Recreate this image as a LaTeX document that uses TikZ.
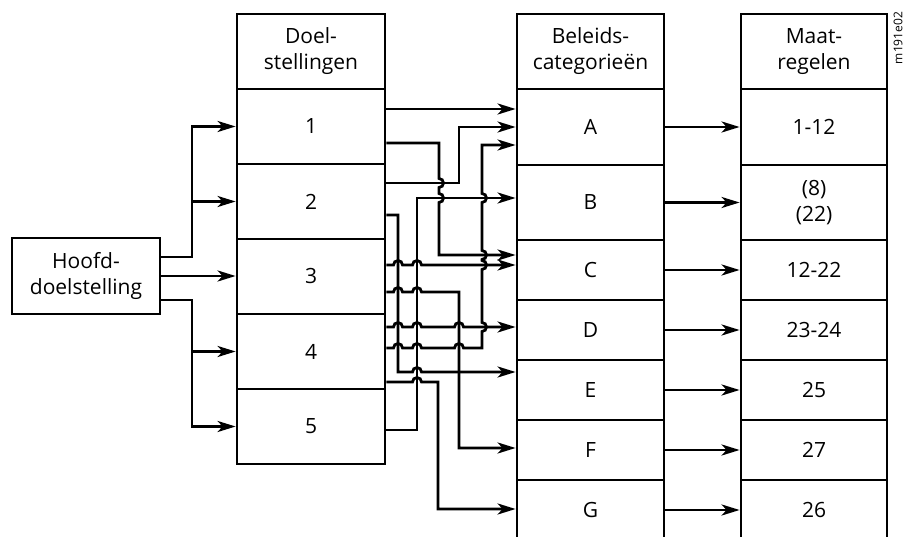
\documentclass[tikz,border=0pt]{standalone}
\usepackage{fontspec}
\setmainfont{Open Sans}
\usetikzlibrary{arrows.meta}

\begin{document}
\begin{tikzpicture}[x=1pt,y=-1pt]

	% INPUTS

	\newcommand{\xhoofd}{86}		% centre of the box Hoofddoelstelling
	\newcommand{\xdoel}{311}		% centre of column Doelstellingen
	\newcommand{\xbeleid}{590.5}	% centre of column Beleidscategorieen
	\newcommand{\xmaat}{814}		% centre of column Maatregelen
	\newcommand{\xsplits}{192}		% vertical bus after the main box

	% jump over a vertical line (going right), over a horizontal line (going down / up)
	\newcommand{\hsprong}[2]{-- ({#1-4.5},#2) arc[start angle=180,end angle=0,radius=4.5pt]}
	\newcommand{\vsprong}[2]{-- (#1,{#2-4.5}) arc[start angle=90,end angle=-90,radius=4.5pt]}
	\newcommand{\vsprongop}[2]{-- (#1,{#2+4.5}) arc[start angle=-90,end angle=90,radius=4.5pt]}

	% page size
	\clip (0,0) rectangle (905,537);

	% styles
	\tikzstyle{vak}=[draw,line width=2.8pt,inner sep=0pt,align=center,font=\fontsize{21}{26}\selectfont]
	\tikzstyle{pijl}=[line width=2.8pt,-{Stealth[length=18pt,width=11pt,inset=5pt]}]

	% main box
	\node[vak,minimum width=148pt,minimum height=76pt] (hoofd) at (\xhoofd,276) {Hoofd-\\doelstelling};

	% column Doelstellingen
	\node[vak,minimum width=148pt,minimum height=75pt] (kopdoel) at (\xdoel,51.5) {Doel-\\stellingen};
	\foreach \i in {1,...,5}
		\node[vak,minimum width=148pt,minimum height=75pt] (doel\i) at (\xdoel,{51.5+75*\i}) {\i};

	% columns Beleidscategorieen and Maatregelen
	\node[vak,minimum width=147pt,minimum height=75pt] (kopbeleid) at (\xbeleid,51.5) {Beleids-\\categorieën};
	\node[vak,minimum width=146pt,minimum height=75pt] (kopmaat) at (\xmaat,51.5) {Maat-\\regelen};
	\foreach \naam/\y/\h/\maat in {A/127/76/{1-12}, B/202.5/75/{(8)\\(22)}, C/270/60/{12-22}, D/330/60/{23-24}, E/390/60/{25}, F/450/60/{27}, G/510/60/{26}}{
		\node[vak,minimum width=147pt,minimum height=\h pt] (cat\naam) at (\xbeleid,\y) {\naam};
		\node[vak,minimum width=146pt,minimum height=\h pt] (maat\naam) at (\xmaat,\y) {\maat};
		\draw[pijl] (cat\naam) -- (maat\naam);
	}

	% drawing number
	\node[rotate=90,font=\fontsize{12}{12}\selectfont] (tekening) at (898,38) {m191e02};

	% from the main box to the Doelstellingen
	\draw[pijl] (hoofd.east |- 0,257) -- (\xsplits,257) |- (doel1.west);
	\draw[pijl] (hoofd.east |- 0,257) -- (\xsplits,257) |- (doel2.west);
	\draw[pijl] (hoofd.east) -- (doel3.west |- hoofd.east);
	\draw[pijl] (hoofd.east |- 0,300) -- (\xsplits,300) |- (doel4.west);
	\draw[pijl] (hoofd.east |- 0,300) -- (\xsplits,300) |- (doel5.west);

	% from the Doelstellingen to the Beleidscategorieen
	% 1
	\draw[pijl] (doel1.east |- 0,109) -- (catA.west |- 0,109);
	\draw[pijl] (doel1.east |- 0,143) -- (439,143) \vsprong{439}{183} \vsprong{439}{198} -- (439,255) -- (catC.west |- 0,255);
	% 2
	\draw[pijl] (doel2.east |- 0,183) -- (459,183) -- (459,127) -- (catA.west |- 0,127);
	\draw[pijl] (doel2.east |- 0,215) -- (398,215) -- (398,372) \hsprong{417}{372} -- (catE.west |- 0,372);
	% 3
	\draw[pijl] (doel3.east |- 0,265) \hsprong{398}{265} \hsprong{417}{265} -- (catC.west |- 0,265);
	\draw[pijl] (doel3.east |- 0,292) \hsprong{398}{292} \hsprong{417}{292} -- (459,292) -- (459,448) -- (catF.west |- 0,448);
	% 4
	\draw[pijl] (doel4.east |- 0,327) \hsprong{398}{327} \hsprong{417}{327} \hsprong{459}{327} -- (catD.west |- 0,327);
	\draw[pijl] (doel4.east |- 0,348) \hsprong{398}{348} \hsprong{417}{348} \hsprong{459}{348} -- (482,348)
		\vsprongop{482}{327} \vsprongop{482}{265} \vsprongop{482}{255} \vsprongop{482}{198} -- (482,145) -- (catA.west |- 0,145);
	\draw[pijl] (doel4.east |- 0,382) \hsprong{417}{382} -- (438,382) -- (438,509) -- (catG.west |- 0,509);
	% 5
	\draw[pijl] (doel5.east |- 0,430) -- (417,430) -- (417,198) -- (catB.west |- 0,198);

\end{tikzpicture}
\end{document}
